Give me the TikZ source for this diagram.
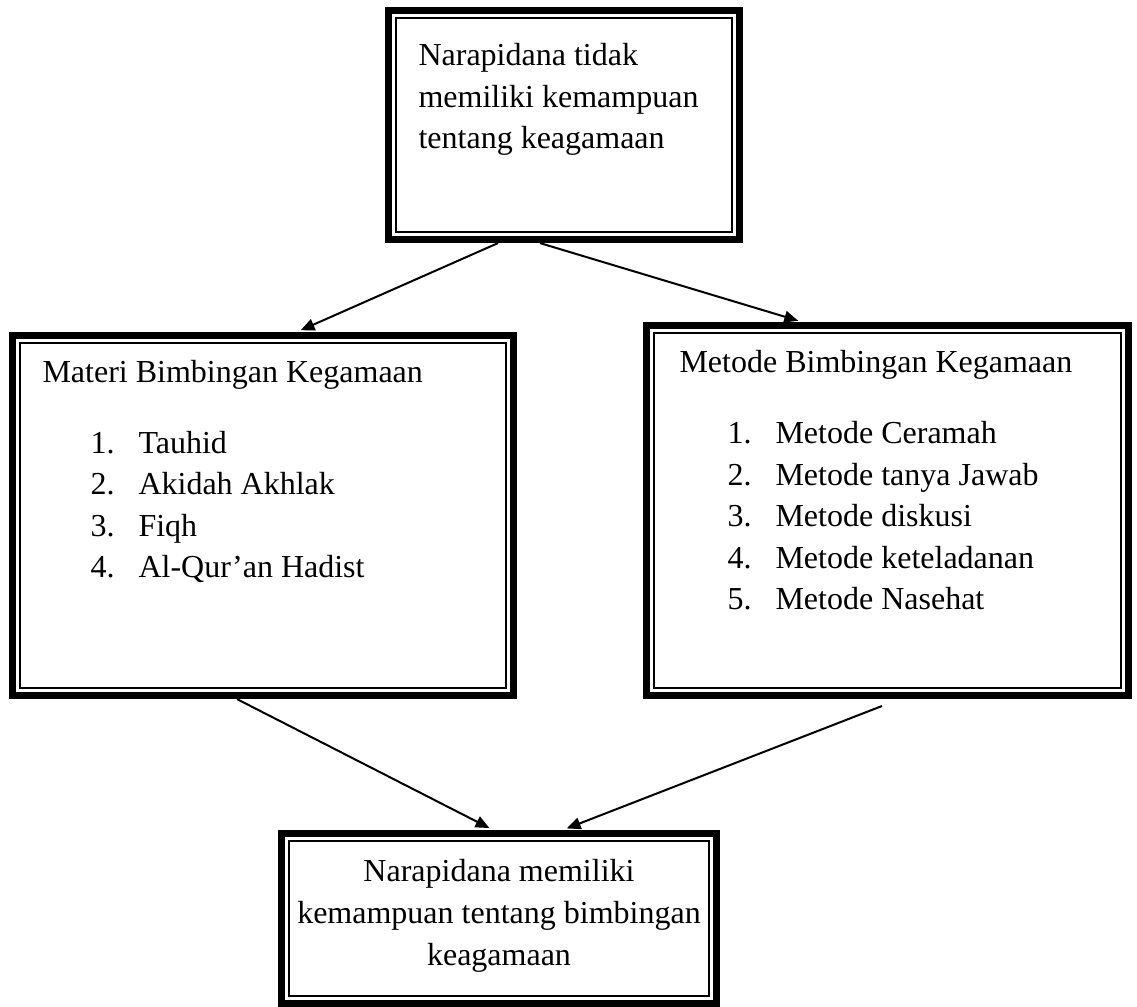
\documentclass[tikz,border=0pt]{standalone}
\usepackage{fontspec}
\setmainfont{Liberation Serif}
\usetikzlibrary{arrows.meta}

\newcommand{\px}{0.375pt}
\newcommand{\nomor}[1]{\makebox[18pt][l]{#1}}

\begin{document}
\begin{tikzpicture}[x=0.375pt,y=-0.375pt,
    frame/.style={draw,line width=2.7pt,inner sep=0pt,
      path picture={\draw[line width=0.75pt]
        ([shift={(2.8pt,-2.8pt)}]path picture bounding box.north west) rectangle
        ([shift={(-2.8pt,2.8pt)}]path picture bounding box.south east);}},
    txt/.style={anchor=base west,inner sep=0pt,align=left,
      font=\fontsize{12}{15.6}\selectfont},
    link/.style={line width=0.75pt,-{Triangle[length=5.2pt,width=4.4pt]},shorten >=1.5pt}]
  \useasboundingbox (0,0) rectangle (1137,1007);
  % the four boxes, thick-thin frame
  \node[frame,minimum width=351*\px,minimum height=229*\px] (masalah) at (564,125) {};
  \node[frame,minimum width=501*\px,minimum height=360*\px] (materi) at (263,515.5) {};
  \node[frame,minimum width=482*\px,minimum height=370*\px] (metode) at (887.5,510.5) {};
  \node[frame,minimum width=435*\px,minimum height=170*\px] (hasil) at (499,918.5) {};
  % texts (base = last line)
  \node[txt] (masalah-teks) at (418,149) {Narapidana tidak\\memiliki kemampuan\\tentang keagamaan};
  \node[txt] (materi-judul) at (42,383) {Materi Bimbingan Kegamaan};
  \node[txt] (materi-isi) at (90,578) {\nomor{1.}Tauhid\\\nomor{2.}Akidah Akhlak\\
    \nomor{3.}Fiqh\\\nomor{4.}Al-Qur’an Hadist};
  \node[txt] (metode-judul) at (679,373) {Metode Bimbingan Kegamaan};
  \node[txt] (metode-isi) at (727,610) {\nomor{1.}Metode Ceramah\\\nomor{2.}Metode tanya Jawab\\
    \nomor{3.}Metode diskusi\\\nomor{4.}Metode keteladanan\\\nomor{5.}Metode Nasehat};
  \node[txt,anchor=base,align=center] (hasil-teks) at (499,965)
    {Narapidana memiliki\\kemampuan tentang bimbingan\\keagamaan};
  % arrows
  \coordinate (ujung) at (882,706);
  \draw[link] ([xshift=-66*\px]masalah.south) -- ([xshift=34*\px]materi.north);
  \draw[link] ([xshift=-24*\px]masalah.south) -- ([xshift=-85.5*\px]metode.north);
  \draw[link] ([xshift=-26*\px]materi.south) -- ([xshift=-6*\px]hasil.north);
  \draw[link] (ujung) -- ([xshift=64*\px]hasil.north);
\end{tikzpicture}
\end{document}
